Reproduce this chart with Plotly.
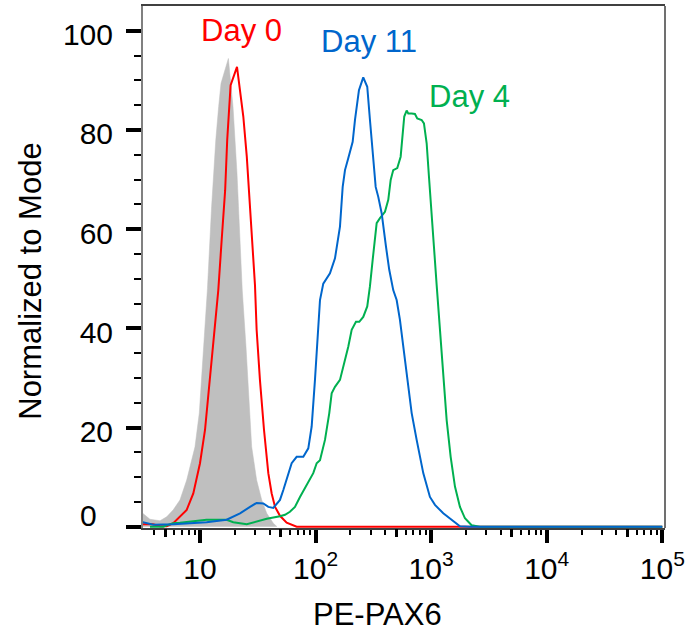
import plotly.graph_objects as go

# ---- data (fluorescence intensity, % of mode) ----
iso_x = [3.2, 3.69, 4.51, 5.15, 5.87, 6.71, 7.67, 9.05, 9.86, 10.7, 11.6, 12.6, 13.7, 14.5,
         15.2, 17.6, 18.4, 19.3, 20.9, 22.2, 23.2, 25.0, 26.7, 28.0, 30.9, 34.2, 37.8, 43.1, 46.4]
iso_y = [2.7, 1.5, 1.2, 2.0, 3.4, 5.4, 9.4, 16.1, 22.9, 36.3, 48.0, 64.5, 78.0, 84.7,
         89.4, 94.4, 89.4, 84.7, 71.2, 57.8, 47.7, 36.3, 22.9, 16.1, 9.4, 5.4, 2.7, 0.7, 0.0]

day0_x = [3.2, 3.92, 4.51, 5.15, 5.87, 6.29, 7.67, 8.75, 10.0, 11.05, 12.2, 13.5, 14.4, 15.4,
          16.5, 17.2, 18.4, 20.9, 22.2, 23.7, 25.4, 27.1, 28.6, 29.9, 30.9, 33.0, 35.8, 39.0,
          41.7, 44.6, 49.2, 56.2, 68.6, 100000]
day0_y = [0.5, 0.5, 0.1, 0.1, 0.7, 1.4, 3.4, 6.7, 12.8, 19.5, 29.6, 39.7, 47.7, 57.8,
          67.8, 78.0, 89.0, 92.7, 88.0, 82.7, 74.6, 64.5, 57.8, 48.7, 39.7, 29.6, 19.5, 10.8,
          6.7, 4.0, 2.2, 0.8, 0.0, 0.0]

day4_x = [3.69, 4.81, 5.15, 5.87, 6.71, 11.4, 17.0, 19.4, 25.4, 29.9, 37.8, 49.2, 54.4, 60.0,
          66.3, 73.3, 83.8, 95.5, 102.2, 109.2, 120.6, 131.4, 137.8, 147.2, 162.6, 177.2,
          191.8, 205.3, 223.6, 238.8, 258.6, 280.0, 295.5, 311.9, 326.5, 337.7, 360.6, 398.4,
          425.6, 446.5, 469.9, 509.1, 544.6, 567.0, 585.2, 613.8, 633.8, 678.3, 724.1, 758.1,
          827.6, 866.4, 914.5, 957.1, 1010, 1057, 1116, 1192, 1273, 1362, 1475, 1607, 1775,
          1961, 2240, 2643, 100000]
day4_y = [0.0, 0.0, 0.3, 0.7, 0.8, 1.4, 1.4, 0.9, 0.5, 1.0, 1.6, 2.1, 2.4, 3.0,
          4.0, 6.0, 8.5, 10.8, 12.8, 13.4, 17.5, 22.9, 26.9, 28.2, 29.6, 32.9,
          36.3, 39.7, 41.3, 41.3, 42.3, 44.4, 48.5, 53.8, 58.5, 61.2, 62.2, 63.5,
          65.9, 69.9, 71.9, 72.3, 74.6, 79.3, 82.7, 83.9, 83.3, 83.3, 83.2, 82.3,
          82.0, 81.3, 77.3, 70.6, 63.9, 56.5, 48.7, 39.7, 29.6, 21.5, 14.1, 8.1, 4.0,
          1.7, 0.3, 0.0, 0.0]

day11_x = [3.2, 3.94, 5.87, 8.75, 11.4, 17.0, 22.2, 27.1, 30.9, 35.3, 39.0, 43.1, 49.2, 52.6,
           56.2, 62.1, 68.6, 78.3, 86.5, 92.5, 98.8, 104.3, 109.2, 116.6, 133.2, 147.2, 157.2,
           162.6, 171.6, 179.7, 191.8, 209.4, 219.3, 237.3, 258.6, 280.0, 295.5, 311.9, 331.1,
           348.7, 373.1, 406.4, 434.0, 469.9, 503.0, 537.0, 593.4, 678.3, 749.2, 854.5, 976.3,
           1079, 1273, 1504, 1775, 2166, 100000]
day11_y = [0.9, 0.4, 0.5, 0.8, 0.9, 1.4, 2.7, 4.0, 4.8, 4.7, 4.0, 3.8, 5.4, 7.4,
           9.4, 12.8, 14.1, 14.1, 15.8, 20.2, 29.6, 39.7, 45.7, 49.0, 51.1, 54.1, 57.8,
           60.5, 68.5, 71.9, 74.3, 77.6, 82.0, 88.0, 90.6, 88.7, 82.0, 75.3, 68.5,
           66.5, 63.2, 56.5, 51.8, 47.7, 45.7, 41.7, 33.6, 22.9, 17.5, 10.8, 6.0,
           4.4, 2.7, 1.4, 0.1, 0.0, 0.0]

x_major = [10, 100, 1000, 10000, 100000]
x_major_text = ["10", "10<sup>2</sup>", "10<sup>3</sup>", "10<sup>4</sup>", "10<sup>5</sup>"]
x_mid = [5, 50, 500, 5000, 50000]
x_minor = [d * 10 ** n for n in range(0, 5) for d in (2, 3, 4, 6, 7, 8, 9)]
y_major = [0, 20, 40, 60, 80, 100]
y_major_text = ["", "20", "40", "60", "80", "100"]   # "0" is placed separately, as in the original
y_minor = [v for v in range(5, 100, 5) if v % 20]

FONT = "Liberation Sans, Arial, sans-serif"
RED, GREEN, BLUE, GRAY = "#FF0000", "#00B050", "#0066CC", "#BFBFBF"

fig = go.Figure()
fig.add_trace(go.Scatter(x=iso_x, y=iso_y, mode="lines", fill="tozeroy", fillcolor=GRAY,
                         line=dict(color=GRAY, width=0.5), showlegend=False, hoverinfo="skip"))
fig.add_trace(go.Scatter(x=day0_x, y=day0_y, mode="lines", line=dict(color=RED, width=2),
                         showlegend=False))
fig.add_trace(go.Scatter(x=day4_x, y=day4_y, mode="lines", line=dict(color=GREEN, width=2),
                         showlegend=False))
fig.add_trace(go.Scatter(x=day11_x, y=day11_y, mode="lines", line=dict(color=BLUE, width=2),
                         showlegend=False))
# helper trace so the overlay axis (mid-decade ticks) is drawn
fig.add_trace(go.Scatter(x=[None], y=[None], xaxis="x2", showlegend=False, hoverinfo="skip"))

XR = [0.5068, 5.0234]
fig.update_layout(
    width=688, height=633,
    margin=dict(l=143, r=23, t=6, b=105, autoexpand=False),
    paper_bgcolor="white", plot_bgcolor="white",
    font=dict(family=FONT, color="black"),
    xaxis=dict(type="log", range=XR, tickmode="array", tickvals=x_major, ticktext=x_major_text,
               ticks="outside", ticklen=13, tickwidth=4, tickcolor="black",
               tickfont=dict(size=30, family=FONT, color="black"), automargin=False,
               showline=True, linecolor="#404040", linewidth=1.5, mirror=True,
               showgrid=False, zeroline=False,
               minor=dict(tickmode="array", tickvals=x_minor, ticks="outside", ticklen=5,
                          tickwidth=2, tickcolor="black", showgrid=False)),
    xaxis2=dict(type="log", range=XR, overlaying="x", side="bottom", anchor="y",
                tickmode="array", tickvals=x_mid, ticks="outside", ticklen=8, tickwidth=3,
                tickcolor="black", showticklabels=False, showline=False, showgrid=False,
                zeroline=False, automargin=False),
    yaxis=dict(range=[-0.26, 104.98], tickmode="array", tickvals=y_major, ticktext=y_major_text,
               ticks="outside", ticklen=15, tickwidth=4, tickcolor="black",
               tickfont=dict(size=30, family=FONT, color="black"), automargin=False,
               ticklabelshift=4, ticklabelstandoff=7,
               showline=True, linecolor="#808080", linewidth=2, mirror=False,
               showgrid=False, zeroline=False,
               minor=dict(tickmode="array", tickvals=y_minor, ticks="outside", ticklen=7,
                          tickwidth=2, tickcolor="black", showgrid=False)),
)

fig.add_shape(type="line", xref="paper", yref="paper", x0=1, x1=1, y0=0, y1=1,
              line=dict(color="#404040", width=1.5))

# zero label of the y axis (sits a little higher and further left than the others)
fig.add_annotation(text="0", x=-0.104, y=0.024, xref="paper", yref="paper", showarrow=False,
                   font=dict(size=30, family=FONT, color="black"),
                   xanchor="center", yanchor="middle")

fig.add_annotation(text="Day 0", x=1.359, y=100.0, xref="x", yref="y", showarrow=False,
                   font=dict(size=31, color=RED, family=FONT), xanchor="center", yanchor="middle")
fig.add_annotation(text="Day 11", x=2.4645, y=97.9, xref="x", yref="y", showarrow=False,
                   font=dict(size=31, color=BLUE, family=FONT), xanchor="center", yanchor="middle")
fig.add_annotation(text="Day 4", x=3.3287, y=86.8, xref="x", yref="y", showarrow=False,
                   font=dict(size=31, color=GREEN, family=FONT), xanchor="center", yanchor="middle")

fig.add_annotation(text="PE-PAX6", x=0.4492, y=-0.1648, xref="paper", yref="paper",
                   showarrow=False, font=dict(size=31, family=FONT, color="black"),
                   xanchor="center", yanchor="middle")
fig.add_annotation(text="Normalized to Mode", x=-0.215, y=0.4732, xref="paper", yref="paper",
                   showarrow=False, textangle=-90, font=dict(size=31, family=FONT, color="black"),
                   xanchor="center", yanchor="middle")

fig.write_html("out.html", config={"displayModeBar": False},
               post_script="document.body.style.margin='0';document.body.style.overflow='hidden';")
